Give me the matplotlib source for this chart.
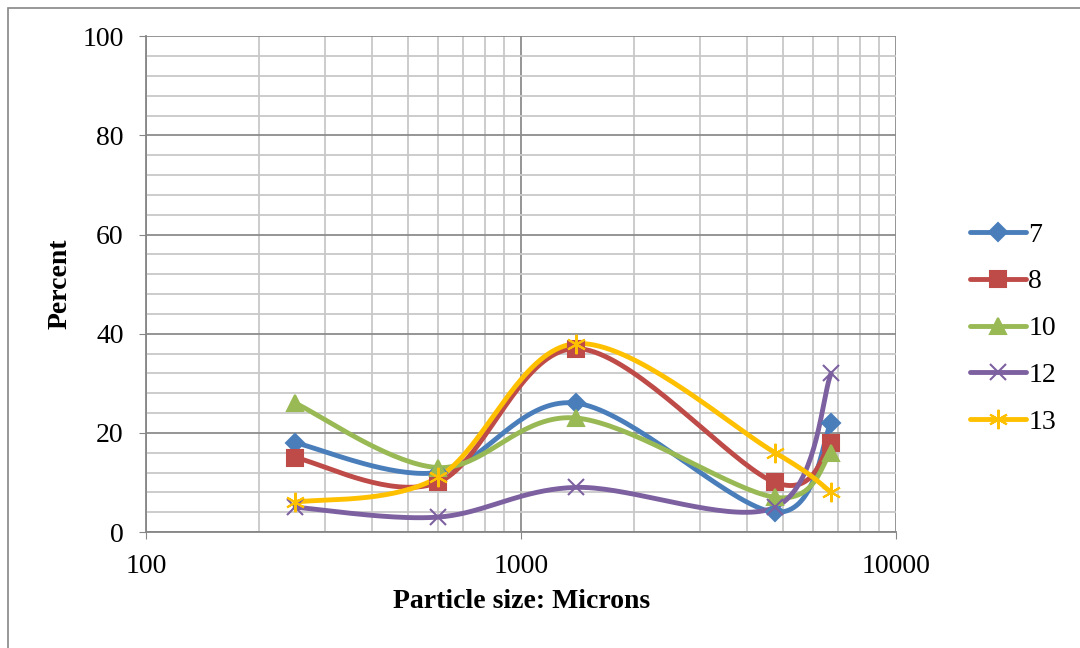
import numpy as np
import matplotlib.pyplot as plt
from matplotlib.patches import Rectangle
from matplotlib.ticker import LogLocator, MultipleLocator, NullFormatter

plt.rcParams['font.family'] = ['Liberation Serif', 'DejaVu Serif']

sizes = [250, 600, 1400, 4750, 6700]
labels = ['7', '8', '10', '12', '13']
s7 = [18, 12, 26, 4, 22]
s8 = [15, 10, 37, 10, 18]
s10 = [26, 13, 23, 7, 16]
s12 = [5, 3, 9, 5, 32]
s13 = [6, 11, 38, 16, 8]
series = [s7, s8, s10, s12, s13]
colors = ['#4a7ebb', '#be4b48', '#98b954', '#7d60a0', '#ffc000']
markers = ['D', 's', '^', 'x', (6, 2, 0)]
msizes = [9, 12, 12, 11, 14]


def smooth(xs, ys, n=40):
    # Excel-like smoothing: cubic bezier in (log x, y) screen-ish space
    u = np.log10(xs) * 375.0
    v = np.asarray(ys, float) * 4.96
    P = np.column_stack([u, v])
    out = []
    for i in range(len(P) - 1):
        p0 = P[i - 1] if i > 0 else P[i]
        p3 = P[i + 2] if i + 2 < len(P) else P[i + 1]
        c1 = P[i] + (P[i + 1] - p0) / 6
        c2 = P[i + 1] - (p3 - P[i]) / 6
        t = np.linspace(0, 1, n)[:, None]
        seg = ((1 - t) ** 3 * P[i] + 3 * (1 - t) ** 2 * t * c1
               + 3 * (1 - t) * t ** 2 * c2 + t ** 3 * P[i + 1])
        out.append(seg)
    pts = np.vstack(out)
    return 10 ** (pts[:, 0] / 375.0), pts[:, 1] / 4.96


fig = plt.figure(figsize=(10.8, 6.48), dpi=100)
fig.patches.append(Rectangle((8 / 1080, -0.05), 1.1, 1.037, transform=fig.transFigure,
                             fill=False, edgecolor='#868686', linewidth=1.2))
ax = fig.add_axes([0.135, 0.179, 0.695, 0.765])

for ys, lab, c, m, ms in zip(series, labels, colors, markers, msizes):
    sx, sy = smooth(sizes, ys)
    ax.plot(sx, sy, color=c, linewidth=3.5, solid_capstyle='round', zorder=3)
    ax.plot(sizes, ys, linestyle='none', marker=m, markersize=ms, color=c,
            markeredgecolor=c, markeredgewidth=1.5, zorder=4)
    ax.plot([], [], color=c, linewidth=3.5, marker=m, markersize=ms,
            markeredgecolor=c, markeredgewidth=1.5, label=lab, solid_capstyle='round')

ax.set_xscale('log')
ax.set_xlim(100, 10000)
ax.set_ylim(0, 100)
ax.xaxis.set_minor_locator(LogLocator(base=10, subs=np.arange(2, 10), numticks=20))
ax.xaxis.set_minor_formatter(NullFormatter())
ax.set_xticks([100, 1000, 10000])
ax.set_xticklabels(['100', '1000', '10000'])
ax.yaxis.set_major_locator(MultipleLocator(20))
ax.yaxis.set_minor_locator(MultipleLocator(4))

ax.grid(which='major', color='#8c8c8c', linewidth=1.3)
ax.grid(which='minor', color='#c8c8c8', linewidth=1.3)
ax.set_axisbelow(True)
for side in ['top', 'right']:
    ax.spines[side].set_visible(False)
for side in ['left', 'bottom']:
    ax.spines[side].set_color('#868686')
    ax.spines[side].set_linewidth(1.3)
ax.tick_params(which='major', length=5, color='#868686', labelsize=20)
ax.tick_params(which='minor', length=0)
ax.tick_params(axis='y', pad=11)
ax.tick_params(axis='x', pad=11)

ax.set_xlabel('Particle size: Microns', fontsize=20, fontweight='bold', labelpad=7)
ax.set_ylabel('Percent', fontsize=20, fontweight='bold', labelpad=7)

ax.legend(loc='center left', bbox_to_anchor=(970 / 1080, 1 - 328.5 / 648),
          bbox_transform=fig.transFigure, frameon=False, fontsize=20,
          borderaxespad=0, borderpad=0, handlelength=2.0, handletextpad=0.1,
          labelspacing=0.77)

plt.savefig('out.png', dpi=100)
